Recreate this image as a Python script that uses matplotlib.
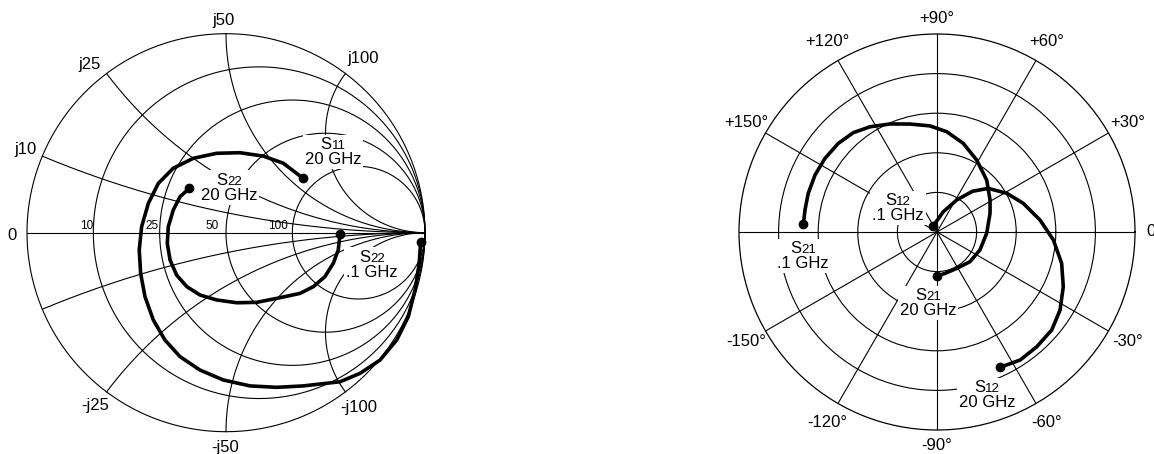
import numpy as np
import matplotlib
matplotlib.use("Agg")
from matplotlib import pyplot as plt
from matplotlib.offsetbox import TextArea, HPacker, VPacker, AnnotationBbox

plt.rcParams['font.family'] = ['Liberation Sans', 'DejaVu Sans']

# ---- Smith chart data (reflection coefficient, real / imag), .1 GHz -> 20 GHz ----
s11_re = [0.978, 0.971, 0.950, 0.916, 0.858, 0.774, 0.673, 0.573, 0.388, 0.255,
          0.121, -0.014, -0.131, -0.231, -0.307, -0.365, -0.407, -0.429, -0.436,
          -0.424, -0.390, -0.340, -0.265, -0.164, -0.047, 0.070, 0.187, 0.288, 0.388]
s11_im = [-0.045, -0.154, -0.288, -0.422, -0.539, -0.640, -0.707, -0.749, -0.770, -0.777,
          -0.770, -0.740, -0.690, -0.623, -0.539, -0.439, -0.322, -0.204, -0.087,
          0.030, 0.148, 0.248, 0.324, 0.374, 0.399, 0.402, 0.385, 0.349, 0.273]

s22_re = [0.573, 0.564, 0.539, 0.497, 0.439, 0.372, 0.255, 0.154, 0.054, -0.047,
          -0.131, -0.197, -0.248, -0.281, -0.295, -0.290, -0.265, -0.231, -0.184]
s22_im = [-0.007, -0.087, -0.154, -0.221, -0.271, -0.305, -0.330, -0.350, -0.352, -0.338,
          -0.313, -0.271, -0.213, -0.138, -0.053, 0.030, 0.114, 0.181, 0.223]

resist = [0.2, 0.5, 1.0, 2.0]          # 10, 25, 50, 100 ohm on 50 ohm
react = [0.2, 0.5, 1.0, 2.0]
resist_labels = ['10', '25', '50', '100']

# ---- polar chart data (magnitude, angle in degrees), .1 GHz -> 20 GHz ----
s21_mag = [0.676, 0.676, 0.679, 0.680, 0.677, 0.670, 0.656, 0.630, 0.595, 0.562,
           0.537, 0.509, 0.467, 0.415, 0.363, 0.313, 0.284, 0.251, 0.235, 0.224,
           0.209, 0.213, 0.222]
s21_ang = [176.7, 170.5, 163.3, 154.9, 146.7, 138.1, 130.1, 122.5, 113.5, 104.0,
           93.8, 84.5, 73.5, 61.1, 46.3, 31.1, 19.4, -1.5, -22.7, -42.0,
           -61.5, -79.0, -90.4]

s12_mag = [0.036, 0.107, 0.190, 0.273, 0.340, 0.403, 0.459, 0.524, 0.589, 0.649,
           0.695, 0.736, 0.762, 0.768, 0.771, 0.754]
s12_ang = [121.7, 72.8, 58.4, 48.9, 40.4, 29.0, 18.4, 6.6, -3.9, -14.1,
           -23.4, -32.4, -40.5, -49.0, -57.0, -65.0]

angle_ticks = [0, 30, 60, 90, 120, 150, 180, 210, 240, 270, 300, 330]
angle_labels = ['0', '+30°', '+60°', '+90°', '+120°', '+150°', '',
                '-150°', '-120°', '-90°', '-60°', '-30°']

GRID = dict(color='black', lw=0.8)
CURVE = dict(color='black', lw=2.6, solid_capstyle='round', solid_joinstyle='round', zorder=5)
DOT = dict(color='black', marker='o', ms=6, ls='none', zorder=6)
fs = 12


def s_label(ax, sub, freq, xy):
    top = HPacker(children=[TextArea('S', textprops=dict(size=fs)),
                            TextArea(sub, textprops=dict(size=9.5))],
                  align='baseline', pad=0, sep=0)
    low = TextArea(freq, textprops=dict(size=fs))
    box = VPacker(children=[top, low], align='center', pad=0, sep=0)
    ab = AnnotationBbox(box, xy, xycoords='data', frameon=True, pad=0.15,
                        bboxprops=dict(fc='white', ec='none'), zorder=4)
    ax.add_artist(ab)


fig = plt.figure(figsize=(11.54, 4.54), dpi=100)

# ================= Smith chart =================
ax1 = fig.add_axes([7.1 / 1154, 2.4 / 454, 437.8 / 1154, 437.8 / 454])
ax1.set_xlim(-1.1, 1.1)
ax1.set_ylim(-1.1, 1.1)
ax1.axis('off')

t = np.linspace(0, 2 * np.pi, 400)
ax1.plot(np.cos(t), np.sin(t), **GRID)
ax1.plot([-1, 1], [0, 0], **GRID)
for r in resist:
    c, rad = r / (1 + r), 1 / (1 + r)
    ax1.plot(c + rad * np.cos(t), rad * np.sin(t), **GRID)
for x in react:
    rad = 1 / x
    px, py = (x * x - 1) / (x * x + 1), 2 * x / (x * x + 1)
    t0 = np.arctan2(py - rad, px - 1) % (2 * np.pi)
    ts = np.linspace(t0, 1.5 * np.pi, 300)
    ax1.plot(1 + rad * np.cos(ts), rad + rad * np.sin(ts), **GRID)
    ax1.plot(1 + rad * np.cos(ts), -(rad + rad * np.sin(ts)), **GRID)

ax1.plot(s11_re, s11_im, **CURVE)
ax1.plot(s22_re, s22_im, **CURVE)
ax1.plot([s11_re[0], s11_re[-1]], [s11_im[0], s11_im[-1]], **DOT)
ax1.plot([s22_re[0], s22_re[-1]], [s22_im[0], s22_im[-1]], **DOT)

ax1.text(-1.005, 0.416, 'j10', ha='center', va='center', size=fs)
ax1.text(-0.688, 0.843, 'j25', ha='center', va='center', size=fs)
ax1.text(-0.010, 1.064, 'j50', ha='center', va='center', size=fs)
ax1.text(0.688, 0.873, 'j100', ha='center', va='center', size=fs)
ax1.text(-1.073, -0.012, '0', ha='center', va='center', size=fs)
ax1.text(-0.658, -0.867, '-j25', ha='center', va='center', size=fs)
ax1.text(-0.005, -1.079, '-j50', ha='center', va='center', size=fs)
ax1.text(0.666, -0.877, '-j100', ha='center', va='center', size=fs)
for lab, xpos in zip(resist_labels, [-0.701, -0.372, -0.068, 0.259]):
    ax1.text(xpos, 0.033, lab, ha='center', va='center', size=8.5)

s_label(ax1, '11', '20 GHz', (0.538, 0.405))
s_label(ax1, '22', '20 GHz', (0.015, 0.227))
s_label(ax1, '22', '.1 GHz', (0.734, -0.160))
s_label(ax1, '11', '.1 GHz', (1.166, -0.125))

# ================= polar chart =================
ax2 = fig.add_axes([739 / 1154, 24 / 454, 396 / 1154, 396 / 454], projection='polar')
ax2.set_ylim(0, 1)
ax2.set_rgrids([0.2, 0.4, 0.6, 0.8], labels=[])
ax2.set_thetagrids(angle_ticks, labels=[])
ax2.grid(True, color='black', lw=0.8)
ax2.spines['polar'].set_color('black')
ax2.spines['polar'].set_linewidth(0.9)
ax2.tick_params(length=0)

ax2.plot(np.radians(s21_ang), s21_mag, **CURVE)
ax2.plot(np.radians(s12_ang), s12_mag, **CURVE)
ax2.plot(np.radians([s21_ang[0], s21_ang[-1]]), [s21_mag[0], s21_mag[-1]], **DOT)
ax2.plot(np.radians([s12_ang[0], s12_ang[-1]]), [s12_mag[0], s12_mag[-1]], **DOT)

for a, lab in zip(angle_ticks, angle_labels):
    rr = 1.08 if a % 90 == 0 else 1.11
    ax2.text(np.radians(a), rr, lab, ha='center', va='center', size=fs)

s_label(ax2, '12', '.1 GHz', (np.radians(148.4), 0.231))
s_label(ax2, '21', '.1 GHz', (np.radians(190.2), 0.688))
s_label(ax2, '21', '20 GHz', (np.radians(-97.2), 0.361))
s_label(ax2, '12', '20 GHz', (np.radians(-72.9), 0.861))

plt.savefig('out.png', dpi=100)
